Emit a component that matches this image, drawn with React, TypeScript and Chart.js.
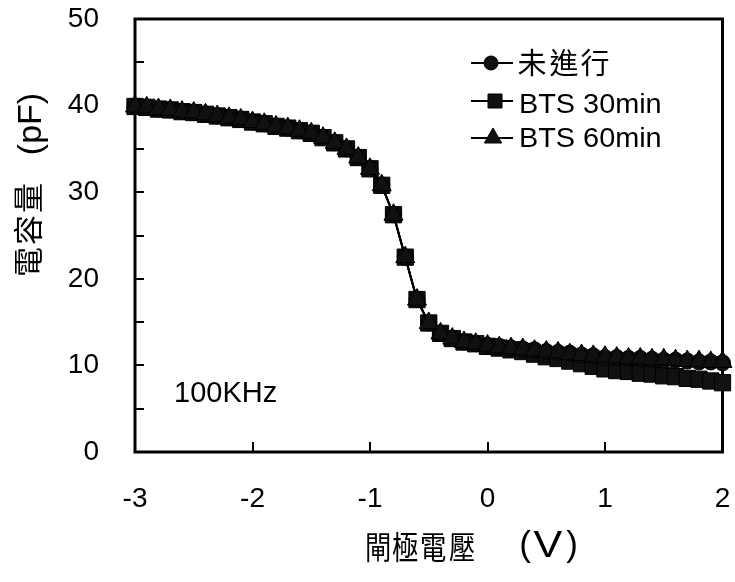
import React, { useEffect, useRef } from 'react';
import { Chart, registerables } from 'chart.js';

Chart.register(...registerables);

// Gate voltage (V)
const voltage = [
  -3.0, -2.9, -2.8, -2.7, -2.6, -2.5, -2.4, -2.3, -2.2, -2.1,
  -2.0, -1.9, -1.8, -1.7, -1.6, -1.5, -1.4, -1.3, -1.2, -1.1,
  -1.0, -0.9, -0.8, -0.7, -0.6, -0.5, -0.4, -0.3, -0.2, -0.1,
  0.0, 0.1, 0.2, 0.3, 0.4, 0.5, 0.6, 0.7, 0.8, 0.9,
  1.0, 1.1, 1.2, 1.3, 1.4, 1.5, 1.6, 1.7, 1.8, 1.9, 2.0,
];

// Capacitance (pF), -3.0 .. -0.1 V (the three curves coincide here)
const sharedCapacitance = [
  39.9, 39.8, 39.6, 39.5, 39.3, 39.2, 39.0, 38.8, 38.6, 38.4,
  38.1, 37.9, 37.6, 37.4, 37.1, 36.8, 36.3, 35.7, 35.0, 34.0,
  32.7, 30.8, 27.4, 22.5, 17.6, 14.9, 13.7, 13.1, 12.7, 12.5,
];

// Capacitance (pF), 0.0 .. 2.0 V
const tailNotStressed = [
  12.3, 12.2, 12.0, 11.9, 11.8, 11.6, 11.5, 11.4, 11.2, 11.1,
  10.9, 10.9, 10.8, 10.8, 10.7, 10.6, 10.6, 10.5, 10.4, 10.4, 10.3,
];
const tailBts30 = [
  12.2, 12.0, 11.8, 11.6, 11.3, 11.0, 10.8, 10.5, 10.2, 9.9,
  9.6, 9.4, 9.3, 9.1, 9.0, 8.8, 8.7, 8.5, 8.4, 8.2, 8.0,
];
const tailBts60 = [
  12.3, 12.1, 12.0, 11.9, 11.7, 11.6, 11.5, 11.3, 11.2, 11.1,
  11.0, 10.9, 10.8, 10.8, 10.7, 10.7, 10.6, 10.5, 10.5, 10.4, 10.4,
];

const seriesNames = ['未進行', 'BTS 30min', 'BTS 60min'];
const xTickValues = [-3, -2, -1, 0, 1, 2];
const yTickValues = [0, 10, 20, 30, 40, 50];
const yTickMarks = [5, 10, 15, 20, 25, 30, 35, 40, 45];
const xTickMarks = [-2, -1, 0, 1];

const LATIN = "'Liberation Sans', Arial, sans-serif";
const CJK = "'Noto Sans CJK TC', 'Noto Sans CJK SC', sans-serif";

function pts(tail: number[]) {
  const ys = sharedCapacitance.concat(tail);
  return voltage.map((x, i) => ({ x, y: ys[i] }));
}

function drawText(
  ctx: CanvasRenderingContext2D,
  text: string,
  x: number,
  y: number,
  font: string,
  align: CanvasTextAlign = 'center',
  rot = 0,
  sx = 1,
) {
  ctx.save();
  ctx.translate(x, y);
  if (rot) ctx.rotate(rot);
  if (sx !== 1) ctx.scale(sx, 1);
  ctx.font = font;
  ctx.fillStyle = '#000';
  ctx.textAlign = align;
  ctx.textBaseline = 'middle';
  ctx.fillText(text, 0, 0);
  ctx.restore();
}

const framePlugin = {
  id: 'frame',
  beforeDatasetsDraw(chart: any) {
    const { ctx, chartArea: a, scales } = chart;
    ctx.save();
    ctx.strokeStyle = '#000';
    ctx.lineWidth = 3;
    ctx.strokeRect(a.left, a.top, a.right - a.left, a.bottom - a.top);
    ctx.lineWidth = 2;
    yTickMarks.forEach((v) => {
      const y = Math.round(scales.y.getPixelForValue(v));
      ctx.beginPath();
      ctx.moveTo(a.left, y);
      ctx.lineTo(a.left + 9, y);
      ctx.stroke();
    });
    xTickMarks.forEach((v) => {
      const x = Math.round(scales.x.getPixelForValue(v));
      ctx.beginPath();
      ctx.moveTo(x, a.bottom);
      ctx.lineTo(x, a.bottom - 10);
      ctx.stroke();
    });
    ctx.restore();
  },
  afterDraw(chart: any) {
    const { ctx } = chart;
    // X title
    const xChars = ['閘', '極', '電', '壓'];
    const xCenters = [378, 405, 433, 462];
    xChars.forEach((c, i) => drawText(ctx, c, xCenters[i], 547, `32px ${CJK}`, 'center', 0, 0.82));
    drawText(ctx, '(', 525, 546, `35px ${LATIN}`);
    drawText(ctx, 'V', 548, 547, `36px ${LATIN}`, 'center', 0, 1.2);
    drawText(ctx, ')', 572, 546, `35px ${LATIN}`);

    // Y title (rotated)
    const yChars = ['電', '容', '量'];
    const yCenters = [262, 230, 198];
    yChars.forEach((c, i) => drawText(ctx, c, 28, yCenters[i], `30px ${CJK}`, 'center', -Math.PI / 2));
    drawText(ctx, '(pF)', 32, 124, `34px ${LATIN}`, 'center', -Math.PI / 2);

    // annotation
    drawText(ctx, '100KHz', 174, 394, `29px ${LATIN}`, 'left');

    // legend
    const rows = [63, 101, 138];
    ctx.save();
    ctx.strokeStyle = '#000';
    ctx.fillStyle = '#111';
    ctx.lineWidth = 2;
    rows.forEach((y, i) => {
      ctx.beginPath();
      ctx.moveTo(471, y);
      ctx.lineTo(513, y);
      ctx.stroke();
      ctx.beginPath();
      if (i === 0) {
        ctx.arc(491, y, 7, 0, Math.PI * 2);
      } else if (i === 1) {
        ctx.rect(488, y - 7, 14, 14);
      } else {
        const r = 10;
        ctx.moveTo(493, y - r);
        ctx.lineTo(493 + r * 0.866, y + r * 0.5);
        ctx.lineTo(493 - r * 0.866, y + r * 0.5);
        ctx.closePath();
      }
      ctx.fill();
      ctx.lineWidth = 1;
      ctx.stroke();
      ctx.lineWidth = 2;
    });
    ctx.restore();
    // legend text
    const cjkLegend = ['未', '進', '行'];
    const cjkX = [532, 564, 595];
    cjkLegend.forEach((c, i) => drawText(ctx, c, cjkX[i], 63, `29px ${CJK}`));
    drawText(ctx, seriesNames[1], 519, 105, `28px ${LATIN}`, 'left', 0, 1.03);
    drawText(ctx, seriesNames[2], 519, 139, `28px ${LATIN}`, 'left', 0, 1.03);
  },
};

function zeroPad(s: any) {
  s.paddingTop = 0;
  s.paddingBottom = 0;
  s.paddingLeft = 0;
  s.paddingRight = 0;
}

export default function App() {
  const canvasRef = useRef<HTMLCanvasElement | null>(null);

  useEffect(() => {
    if (!canvasRef.current) return;
    const common = {
      borderColor: '#000',
      borderWidth: 2,
      pointBackgroundColor: '#111',
      pointBorderColor: '#000',
      pointBorderWidth: 1,
      tension: 0,
      clip: false as any,
    };
    const chart = new Chart(canvasRef.current, {
      type: 'line',
      data: {
        datasets: [
          { ...common, label: seriesNames[0], data: pts(tailNotStressed), pointStyle: 'circle', pointRadius: 8, order: 1 },
          { ...common, label: seriesNames[1], data: pts(tailBts30), pointStyle: 'rect', pointRadius: 11.5, order: 2 },
          { ...common, label: seriesNames[2], data: pts(tailBts60), pointStyle: 'triangle', pointRadius: 11, order: 0 },
        ],
      },
      options: {
        animation: false,
        responsive: false,
        devicePixelRatio: 1,
        layout: { padding: { top: 19, right: 10, left: 0, bottom: 0 } },
        plugins: { legend: { display: false }, tooltip: { enabled: false } },
        scales: {
          x: {
            type: 'linear',
            min: -3,
            max: 2,
            grid: { display: false, drawTicks: false },
            border: { display: false },
            afterBuildTicks: (s: any) => {
              s.ticks = xTickValues.map((v) => ({ value: v }));
            },
            afterFit: (s: any) => {
              s.height = 130;
              zeroPad(s);
            },
            ticks: {
              color: '#000',
              font: { family: LATIN, size: 28 },
              padding: 30,
              maxRotation: 0,
              autoSkip: false,
              callback: (v: any) => String(v),
            },
          },
          y: {
            type: 'linear',
            min: 0,
            max: 50,
            grid: { display: false, drawTicks: false },
            border: { display: false },
            afterBuildTicks: (s: any) => {
              s.ticks = yTickValues.map((v) => ({ value: v }));
            },
            afterFit: (s: any) => {
              s.width = 135;
              zeroPad(s);
            },
            ticks: {
              color: '#000',
              font: { family: LATIN, size: 28 },
              padding: 36,
              autoSkip: false,
              callback: (v: any) => String(v),
            },
          },
        },
      },
      plugins: [framePlugin],
    });
    return () => chart.destroy();
  }, []);

  return (
    <div style={{ position: 'absolute', left: 0, top: 0, width: 735, height: 582, background: '#fff' }}>
      <canvas ref={canvasRef} width={735} height={582} style={{ display: 'block' }} />
    </div>
  );
}
